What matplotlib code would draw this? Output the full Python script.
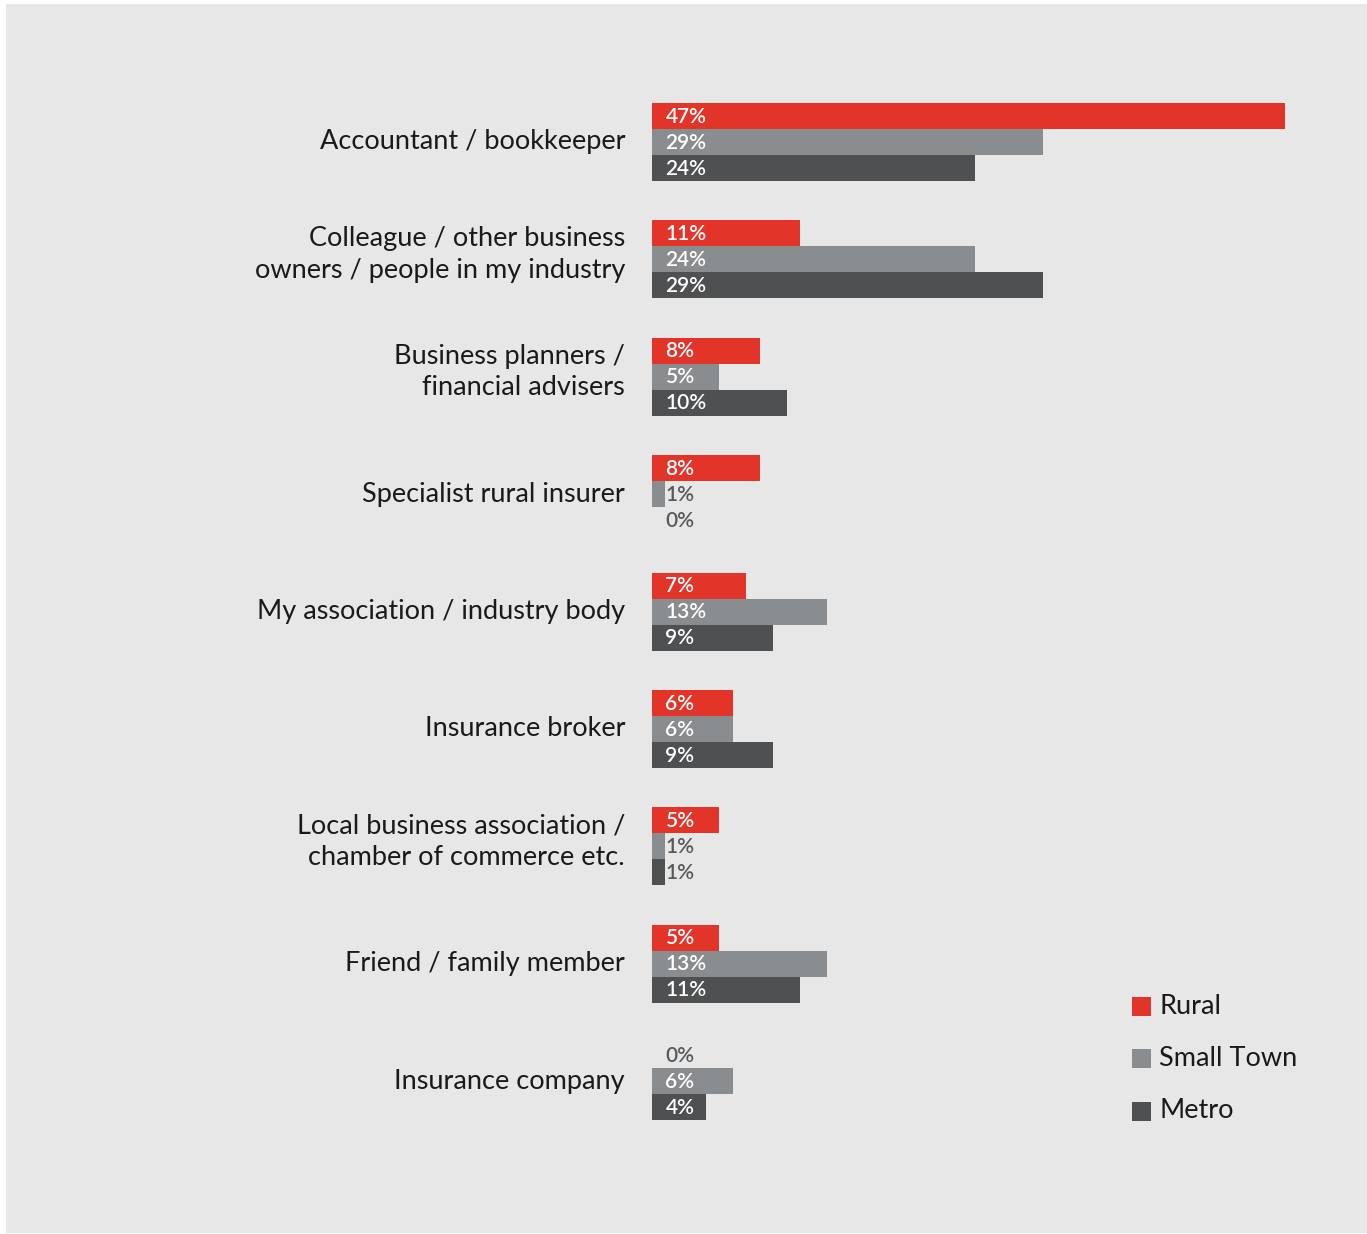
import matplotlib.pyplot as plt
from matplotlib.patches import Rectangle
import numpy as np

plt.rcParams['font.family'] = ['Lato', 'DejaVu Sans']

categories = [
    "Accountant / bookkeeper",
    "Colleague / other business\nowners / people in my industry",
    "Business planners /\nfinancial advisers",
    "Specialist rural insurer",
    "My association / industry body",
    "Insurance broker",
    "Local business association /\nchamber of commerce etc.",
    "Friend / family member",
    "Insurance company",
]
rural = [47, 11, 8, 8, 7, 6, 5, 5, 0]
small_town = [29, 24, 5, 1, 13, 6, 1, 13, 6]
metro = [24, 29, 10, 0, 9, 9, 1, 11, 4]

series_names = ["Rural", "Small Town", "Metro"]
colors = ["#e3342a", "#8a8d90", "#4f5052"]
bg = "#e6e7e6"

W, H = 1367, 1234
fig = plt.figure(figsize=(W / 100, H / 100), dpi=100)
fig.patch.set_facecolor("white")
# grey panel behind everything
fig.patches.append(Rectangle((6 / W, 1 - 1233 / H), (W - 6) / W, (1233 - 4) / H,
                             transform=fig.transFigure, facecolor=bg,
                             edgecolor="none", zorder=-5))

# axes placed in pixel terms: x=0 at 652px, 13.47 px per percent
px_per_pct = 13.47
ax_left, ax_right = 652, 1330
ax_top, ax_bot = 50, 1180
ax = fig.add_axes([ax_left / W, 1 - ax_bot / H, (ax_right - ax_left) / W,
                   (ax_bot - ax_top) / H])
ax.set_zorder(2)
ax.set_facecolor("none")
ax.set_xlim(0, (ax_right - ax_left) / px_per_pct)

step = 117.4
first_center = 142
ax.set_ylim((ax_bot - first_center) / step, (ax_top - first_center) / step)

h = 26 / step
y = np.arange(len(categories))
for k, (vals, col) in enumerate(zip([rural, small_town, metro], colors)):
    yy = y + (k - 1) * h
    ax.barh(yy, vals, height=h, color=col, edgecolor="none")
    for yi, v in zip(yy, vals):
        tc = "white" if v >= 2 else "#58595b"
        ax.text(1.0, yi + 0.005, f"{v}%", color=tc, fontsize=15,
                fontweight="semibold", va="center", ha="left")

for yi, cat in zip(y, categories):
    dy = -0.04 if "\n" in cat else 0.0
    ax.text(-2.0, yi + dy, cat, ha="right", va="center", fontsize=19.5,
            color="#1a1a1a", linespacing=1.33, clip_on=False)

ax.axis("off")

# legend on the right
leg_y = [1006, 1058, 1111]
for name, col, py in zip(series_names, colors, leg_y):
    fig.patches.append(Rectangle((1132 / W, 1 - (py + 9.5) / H), 19 / W, 19 / H,
                                 transform=fig.transFigure, facecolor=col,
                                 edgecolor="none", zorder=3))
    fig.text(1159 / W, 1 - py / H, name, fontsize=19.5, color="#1a1a1a",
             ha="left", va="center")

fig.savefig("out.png", dpi=100, facecolor=fig.get_facecolor())
